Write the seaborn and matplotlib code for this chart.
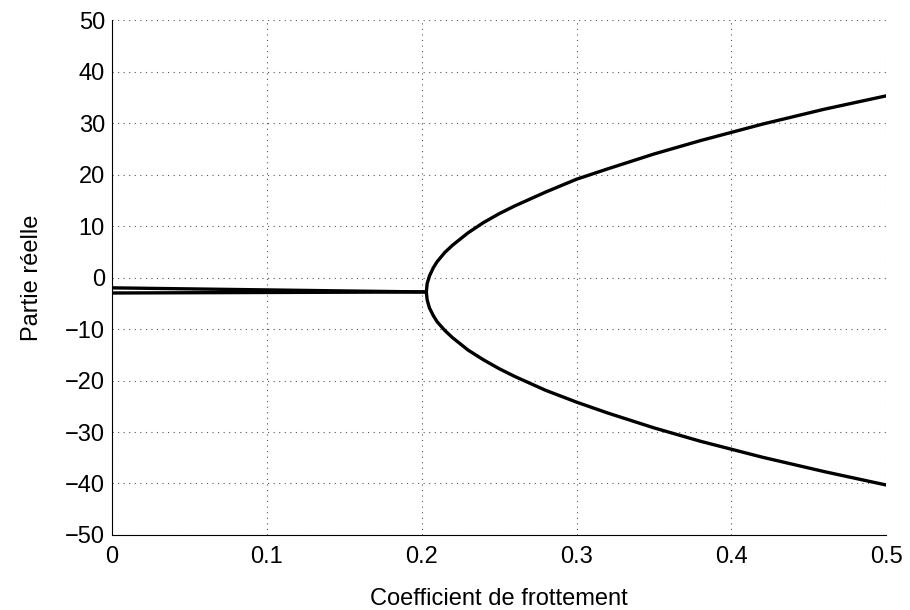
import pandas as pd
import matplotlib
from matplotlib import pyplot as plt
import seaborn as sns

matplotlib.use("Agg")

# Values
# Branches before the bifurcation (two real parts converging)
x_pre = [0.0, 0.05, 0.1, 0.15, 0.203]
y_pre_a = [-2.0, -2.2, -2.4, -2.6, -2.8]
y_pre_b = [-3.0, -2.95, -2.9, -2.85, -2.8]

# Branches after the bifurcation
x_post = [0.203, 0.2035, 0.205, 0.2075, 0.21, 0.215, 0.22, 0.23, 0.24, 0.25,
          0.26, 0.28, 0.30, 0.32, 0.35, 0.38, 0.42, 0.46, 0.5]
y_upper = [-2.8, -1.2, 0.3, 1.9, 3.1, 4.9, 6.3, 8.7, 10.7, 12.4,
           13.9, 16.6, 19.1, 21.1, 24.0, 26.6, 29.8, 32.7, 35.3]
y_lower = [-2.8, -4.3, -5.9, -7.4, -8.6, -10.3, -11.7, -14.1, -16.0, -17.7,
           -19.2, -21.9, -24.2, -26.3, -29.2, -31.8, -34.9, -37.7, -40.3]

frames = [
    pd.DataFrame({'x': x_pre, 'y': y_pre_a, 'branch': 'pre_a'}),
    pd.DataFrame({'x': x_pre, 'y': y_pre_b, 'branch': 'pre_b'}),
    pd.DataFrame({'x': x_post, 'y': y_upper, 'branch': 'upper'}),
    pd.DataFrame({'x': x_post, 'y': y_lower, 'branch': 'lower'}),
]
df = pd.concat(frames, ignore_index=True)

sns.set_style("white")
plt.rcParams['font.family'] = ['Liberation Sans', 'DejaVu Sans']
plt.rcParams['text.color'] = 'black'
plt.rcParams['axes.labelcolor'] = 'black'
plt.rcParams['xtick.color'] = 'black'
plt.rcParams['ytick.color'] = 'black'

fig = plt.figure(figsize=(9.1, 6.1), dpi=100)
ax = fig.add_axes([0.123, 0.123, 0.851, 0.844])

sns.lineplot(data=df, x='x', y='y', units='branch', estimator=None,
             sort=False, color='black', linewidth=2.4, ax=ax, legend=False)

ax.set_xlim(0, 0.5)
ax.set_ylim(-50, 50)
ax.set_xticks([0, 0.1, 0.2, 0.3, 0.4, 0.5])
ax.set_xticklabels(['0', '0.1', '0.2', '0.3', '0.4', '0.5'])
ax.set_yticks(range(-50, 51, 10))
ax.set_yticklabels([str(v).replace('-', '\u2212') for v in range(-50, 51, 10)])

ax.grid(True, linestyle=(0, (1, 4)), color='#555555', linewidth=0.8)
ax.tick_params(direction='in', length=6, labelsize=17, width=0.8,
               color='black')
ax.tick_params(axis='x', pad=8)
ax.tick_params(axis='y', pad=5)
for side in ['top', 'right']:
    ax.spines[side].set_visible(False)
for side in ['left', 'bottom']:
    ax.spines[side].set_color('black')
    ax.spines[side].set_linewidth(0.8)

ax.set_xlabel('Coefficient de frottement', fontsize=17, labelpad=14)
ax.set_ylabel('Partie réelle', fontsize=17, labelpad=16)

plt.savefig('out.png', dpi=100)
